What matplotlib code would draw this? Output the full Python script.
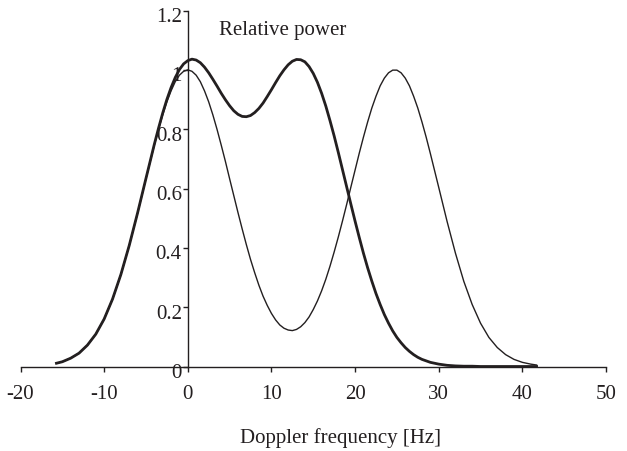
import matplotlib
matplotlib.use("Agg")
import matplotlib.pyplot as plt
import matplotlib.transforms as mtransforms

# Doppler frequency grid [Hz]
freq = [-15.7, -15, -14, -13, -12, -11, -10, -9, -8, -7, -6, -5, -4,
        -3.5, -3, -2.5, -2, -1.5, -1, -0.5, 0, 0.5, 1, 1.5, 2, 2.5, 3, 3.5,
        4, 4.5, 5, 5.5, 6, 6.5, 7, 7.5, 8, 8.5, 9, 9.5, 10, 10.5, 11, 11.5,
        12, 12.5, 13, 13.5, 14, 14.5, 15, 15.5, 16, 16.5, 17, 17.5, 18, 18.5,
        19, 19.5, 20, 20.5, 21, 21.5, 22, 22.5, 23, 23.5, 24, 24.5, 25, 25.5,
        26, 26.5, 27, 27.5, 28, 28.5, 29, 29.5, 30, 31, 32, 33, 34, 35, 36,
        37, 38, 39, 40, 41, 41.7]

# thick curve: relative power of the two close components
power_close = [0.011, 0.016, 0.028, 0.045, 0.072, 0.109, 0.160, 0.227, 0.310,
               0.408, 0.518, 0.634, 0.749,
               0.803, 0.854, 0.900, 0.940, 0.974, 1.001, 1.020, 1.031, 1.036,
               1.033, 1.024, 1.009, 0.990, 0.968, 0.945,
               0.921, 0.899, 0.879, 0.862, 0.850, 0.843, 0.842, 0.846, 0.856,
               0.870, 0.888, 0.910, 0.933, 0.957, 0.980, 1.000,
               1.017, 1.029, 1.035, 1.034, 1.027, 1.011, 0.988, 0.958, 0.921,
               0.878, 0.829, 0.777, 0.721, 0.663,
               0.605, 0.547, 0.490, 0.435, 0.382, 0.333, 0.288, 0.246, 0.209,
               0.175, 0.146, 0.120, 0.098, 0.080,
               0.064, 0.051, 0.040, 0.031, 0.024, 0.019, 0.014, 0.011, 0.008,
               0.004, 0.002, 0.001, 0.001, 0.000, 0.000,
               0.000, 0.000, 0.000, 0.000, 0.000, 0.000]

# thin curve: relative power of the two separated components
power_far = [0.011, 0.016, 0.028, 0.045, 0.072, 0.109, 0.160, 0.227, 0.310,
             0.408, 0.517, 0.633, 0.746,
             0.799, 0.848, 0.892, 0.929, 0.960, 0.982, 0.995, 1.000, 0.995,
             0.982, 0.960, 0.929, 0.892, 0.848, 0.799,
             0.746, 0.691, 0.633, 0.576, 0.519, 0.464, 0.411, 0.361, 0.316,
             0.274, 0.237, 0.206, 0.179, 0.157, 0.140, 0.129,
             0.123, 0.121, 0.125, 0.134, 0.148, 0.167, 0.192, 0.221, 0.255,
             0.294, 0.338, 0.386, 0.437, 0.491,
             0.547, 0.605, 0.662, 0.719, 0.773, 0.824, 0.871, 0.911, 0.946,
             0.972, 0.990, 0.999, 0.999, 0.990,
             0.972, 0.946, 0.911, 0.871, 0.824, 0.773, 0.718, 0.661, 0.604,
             0.489, 0.382, 0.287, 0.209, 0.146, 0.098,
             0.064, 0.040, 0.024, 0.014, 0.008, 0.005]

x_ticks = [-20, -10, 0, 10, 20, 30, 40, 50]
x_tick_labels = ["-20", "-10", "0", "10", "20", "30", "40", "50"]
y_ticks = [0, 0.2, 0.4, 0.6, 0.8, 1.0, 1.2]
y_tick_labels = ["0", "0.2", "0.4", "0.6", "0.8", "1", "1.2"]

ink = "#231f20"
plt.rcParams["font.family"] = ["Liberation Serif", "DejaVu Serif"]
plt.rcParams["axes.unicode_minus"] = False

fig = plt.figure(figsize=(6.27, 4.51), dpi=100)
ax = fig.add_axes([20.5 / 627, 1 - 366.5 / 451, 585.5 / 627, 356.0 / 451])

ax.plot(freq, power_close, color=ink, lw=2.0, clip_on=False,
        solid_joinstyle="round")
ax.plot(freq, power_far, color=ink, lw=1.0, clip_on=False,
        solid_joinstyle="round")

ax.set_xlim(-20, 50)
ax.set_ylim(0, 1.2)
ax.spines["left"].set_position(("data", 0))
ax.spines["top"].set_visible(False)
ax.spines["right"].set_visible(False)
for s in ("left", "bottom"):
    ax.spines[s].set_color(ink)
    ax.spines[s].set_linewidth(1.0)

ax.set_xticks(x_ticks)
ax.set_xticklabels(x_tick_labels)
ax.set_yticks(y_ticks)
ax.set_yticklabels(y_tick_labels)
ax.tick_params(axis="x", direction="out", length=3.3, width=1.0, pad=10,
               labelsize=15, colors=ink)
ax.tick_params(axis="y", direction="out", length=3.8, width=1.0, pad=0.5,
               labelsize=15, colors=ink)

shift = mtransforms.ScaledTranslation(0, -0.045, fig.dpi_scale_trans)
for lbl in ax.get_yticklabels():
    lbl.set_transform(lbl.get_transform() + shift)

fig.text(219 / 627, 1 - 35 / 451, "Relative power", ha="left",
         va="baseline", fontsize=15, color=ink)
fig.text(340.5 / 627, 1 - 442.7 / 451, "Doppler frequency [Hz]",
         ha="center", va="baseline", fontsize=15, color=ink)

fig.savefig("out.png", dpi=100)
